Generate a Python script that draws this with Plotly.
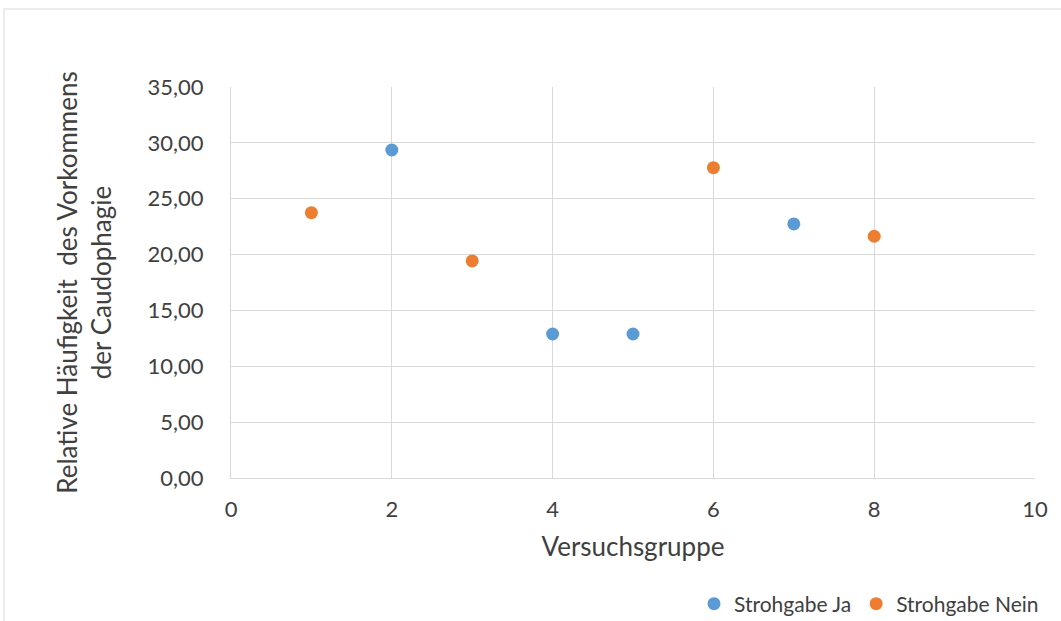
import plotly.graph_objects as go

ja_x = [2, 4, 5, 7]
ja_y = [29.36, 12.89, 12.89, 22.74]
nein_x = [1, 3, 6, 8]
nein_y = [23.75, 19.43, 27.78, 21.64]

FONT = "Lato, 'Open Sans', sans-serif"
TXT = "#404040"

fig = go.Figure()
fig.add_trace(go.Scatter(x=ja_x, y=ja_y, mode="markers", name="Strohgabe Ja",
                         marker=dict(color="#5B9BD5", size=13)))
fig.add_trace(go.Scatter(x=nein_x, y=nein_y, mode="markers", name="Strohgabe Nein",
                         marker=dict(color="#ED7D31", size=13)))

L, R, T, B = 231, 26, 87, 143
W, H = 1061, 621
pw, ph = W - L - R, H - T - B

fig.update_layout(
    width=W, height=H,
    margin=dict(l=L, r=R, t=T, b=B, autoexpand=False),
    paper_bgcolor="white", plot_bgcolor="white",
    separators=",.",
    font=dict(family=FONT, color=TXT, size=22),
    showlegend=True,
    legend=dict(orientation="h", xref="container", x=1044 / W, xanchor="right",
                yref="container", y=1 - 604 / H, yanchor="middle",
                font=dict(size=21, color=TXT), itemwidth=30,
                bgcolor="rgba(0,0,0,0)"),
    xaxis=dict(range=[0, 10], dtick=2, tick0=0, showgrid=True, gridcolor="#d9d9d9",
               gridwidth=1, showline=True, linecolor="#d9d9d9", linewidth=1,
               zeroline=False, ticks="", ticklabelstandoff=12,
               tickfont=dict(size=22, color=TXT),
               title=dict(text="Versuchsgruppe", font=dict(size=26, color=TXT), standoff=16)),
    yaxis=dict(range=[0, 35], dtick=5, tick0=0, tickformat=".2f", showgrid=True,
               gridcolor="#d9d9d9", gridwidth=1, showline=True, linecolor="#d9d9d9",
               linewidth=1, zeroline=False, ticks="", ticklabelstandoff=22,
               tickfont=dict(size=22, color=TXT),
               title=dict(text="Relative Häufigkeit  des Vorkommens<br>der Caudophagie",
                          font=dict(size=26, color=TXT), standoff=28)),
    shapes=[dict(type="rect", xref="paper", yref="paper",
                 x0=(4 - L) / pw, x1=(1070 - L) / pw,
                 y0=(H - B - 640) / ph, y1=(H - B - 9) / ph,
                 line=dict(color="#d9d9d9", width=1), fillcolor="rgba(0,0,0,0)", layer="below")],
)

fig.write_html("out.html")
